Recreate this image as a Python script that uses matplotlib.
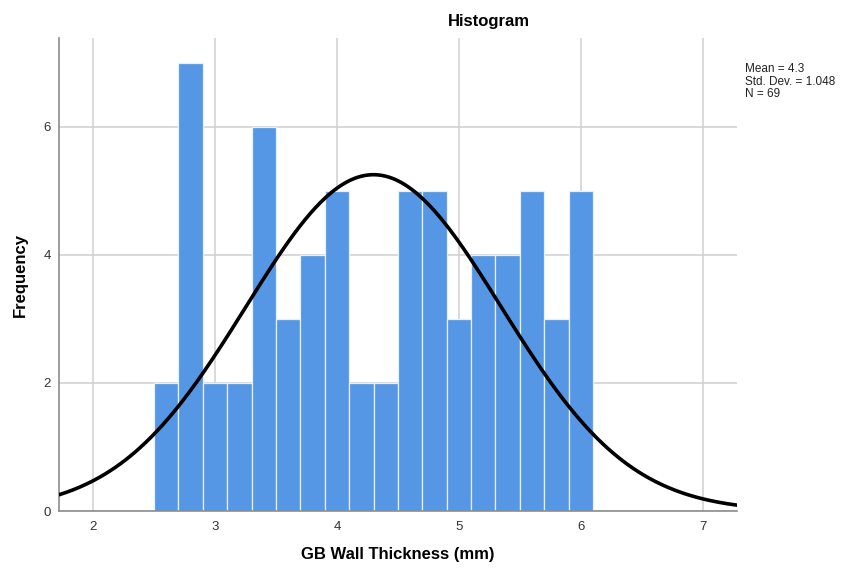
import numpy as np
import matplotlib
matplotlib.use("Agg")
import matplotlib.pyplot as plt

# Histogram bins (mm) and counts
bin_edges = [2.5, 2.7, 2.9, 3.1, 3.3, 3.5, 3.7, 3.9, 4.1, 4.3, 4.5,
             4.7, 4.9, 5.1, 5.3, 5.5, 5.7, 5.9, 6.1]
counts = [2, 7, 2, 2, 6, 3, 4, 5, 2, 2, 5, 5, 3, 4, 4, 5, 3, 5]

mean = 4.3
std_dev = 1.048
n_obs = 69

x_ticks = [2, 3, 4, 5, 6, 7]
y_ticks = [0, 2, 4, 6]

plt.rcParams['font.family'] = ['Liberation Sans', 'DejaVu Sans']

fig = plt.figure(figsize=(8.43, 5.70), dpi=100)
ax = fig.add_axes([0.070, 0.1035, 0.804, 0.830])

edges = np.array(bin_edges)
widths = np.diff(edges)
ax.bar(edges[:-1], counts, width=widths, align='edge', color='#5596E5',
       edgecolor='#E8F0FB', linewidth=0.9, zorder=2)

# Normal curve scaled to counts
bw = widths[0]
xs = np.linspace(1.72, 7.28, 400)
ys = n_obs * bw / (std_dev * np.sqrt(2 * np.pi)) * np.exp(-0.5 * ((xs - mean) / std_dev) ** 2)
ax.plot(xs, ys, color='black', linewidth=2.6, zorder=3, solid_capstyle='round')

ax.set_xlim(1.72, 7.28)
ax.set_ylim(0, 7.39)
ax.set_xticks(x_ticks)
ax.set_yticks(y_ticks)
ax.grid(True, color='#D0D0D0', linewidth=1.1, zorder=0)
ax.set_axisbelow(True)

for s in ['top', 'right']:
    ax.spines[s].set_visible(False)
for s in ['left', 'bottom']:
    ax.spines[s].set_color('#8C8C8C')
    ax.spines[s].set_linewidth(1.2)

ax.tick_params(axis='both', length=0, labelsize=9.5, colors='#333333', pad=7)
ax.tick_params(axis='y', pad=6)

fig.text(0.580, 0.962, 'Histogram', ha='center', va='center', fontsize=12, fontweight='bold')
fig.text(0.472, 0.027, 'GB Wall Thickness (mm)', ha='center', va='center', fontsize=12, fontweight='bold')
fig.text(0.024, 0.518, 'Frequency', ha='center', va='center', fontsize=12, fontweight='bold', rotation=90)

fig.text(0.884, 0.857,
         f'Mean = {mean}\nStd. Dev. = {std_dev:.3f}\nN = {n_obs}',
         ha='left', va='center', fontsize=8.5, linespacing=1.05, color='#222222')

fig.savefig('out.png', dpi=100)
